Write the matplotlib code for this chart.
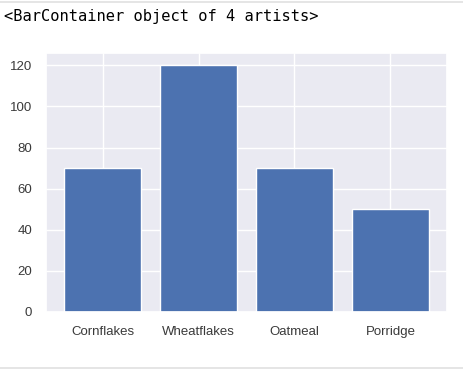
import matplotlib
matplotlib.use("Agg")
import matplotlib.pyplot as plt
import seaborn as sns

cereals = ["Cornflakes", "Wheatflakes", "Oatmeal", "Porridge"]
sales = [70, 120, 70, 50]

W, H = 463, 372

sns.set_theme()
plt.rcParams["font.family"] = ["Liberation Sans", "DejaVu Sans"]

fig = plt.figure(figsize=(W / 100, H / 100), dpi=100)
fig.patch.set_facecolor("white")

# notebook output text and cell borders
fig.text(4 / W, 1 - 17 / H, "<BarContainer object of 4 artists>",
         family="DejaVu Sans Mono", fontsize=11.1, va="center", ha="left",
         color="black")
fig.add_artist(plt.Line2D([0, 1], [1 - 1.5 / H] * 2, color="#e0e0e0", lw=1.2))
fig.add_artist(plt.Line2D([0, 1], [1 - 367.5 / H] * 2, color="#e0e0e0", lw=1.2))

ax = fig.add_axes([46 / W, 1 - 312 / H, (447 - 46) / W, (312 - 53) / H])
ax.bar(cereals, sales, color="#4c72b0")
ax.tick_params(labelsize=9.5, colors="#3a3a3a", pad=4)
ax.set_yticks([0, 20, 40, 60, 80, 100, 120])

fig.savefig("out.png", dpi=100, facecolor="white")
